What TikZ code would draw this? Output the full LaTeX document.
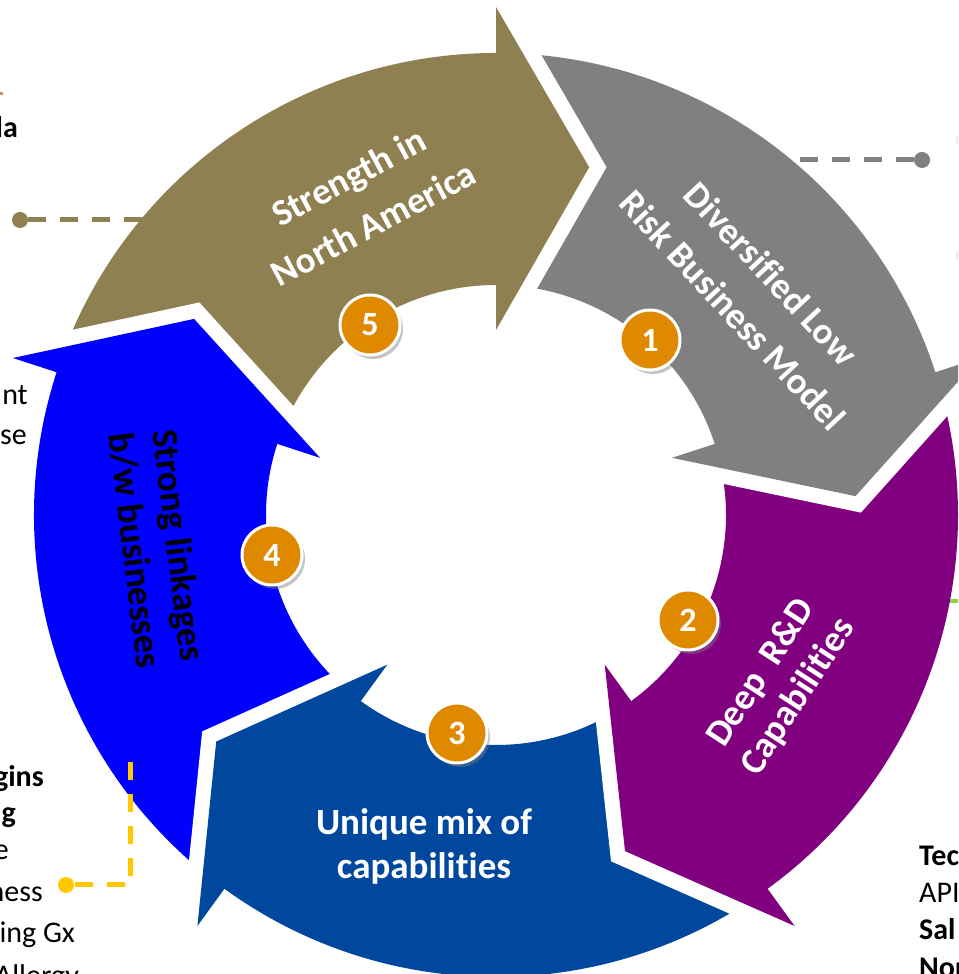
\documentclass[tikz,border=0pt]{standalone}
\usepackage{fontspec}
\setmainfont{Carlito}[Ligatures={NoCommon}]
\usetikzlibrary{shadows,calc}
\definecolor{cbrown}{RGB}{143,128,82}
\definecolor{cgray}{RGB}{128,128,128}
\definecolor{cpurple}{RGB}{128,0,128}
\definecolor{cdblue}{RGB}{0,72,157}
\definecolor{cblue}{RGB}{0,0,255}
\definecolor{corange}{RGB}{222,137,0}
\definecolor{cyellow}{RGB}{255,200,0}
\definecolor{cgreen}{RGB}{146,208,80}
\definecolor{cbeige}{RGB}{236,232,216}
\definecolor{ctan}{RGB}{196,150,96}
\newcommand{\mybody}[2]{%
  \fill[#2] (#1+70.5:462pt) arc[start angle={#1+70.5}, end angle={#1-1}, radius=462pt]
    -- (#1-1:230pt) arc[start angle={#1-1}, end angle={#1+70.5}, radius=230pt] -- cycle;}
\newcommand{\myhead}[2]{%
  \draw[white, line width=30pt, line join=miter] (#1:508pt) -- (#1-15:360pt) -- (#1:185pt);
  \fill[#2] (#1:508pt) -- (#1-15:360pt) -- (#1:185pt) -- cycle;}
\begin{document}
\begin{tikzpicture}[x=1pt,y=1pt,
  maintext/.style={align=center, text=white, font=\bfseries\fontsize{37}{44}\selectfont, inner sep=0pt},
  widetext/.style={maintext, font=\bfseries\fontsize{37}{53}\selectfont},
  badge/.style={circle, fill=corange, draw=white, line width=3pt, minimum size=60pt, inner sep=0pt,
     text=white, font=\bfseries\fontsize{34}{34}\selectfont,
     drop shadow={opacity=0.45, shadow xshift=3pt, shadow yshift=-4pt}},
  dot/.style={circle, inner sep=0pt, minimum size=16pt},
  dashline/.style={line width=5pt, dash pattern=on 18pt off 14pt},
  sidetext/.style={font=\fontsize{30}{36}\selectfont, inner sep=0pt},
  sidebold/.style={font=\bfseries\fontsize{30}{36}\selectfont, inner sep=0pt}]
\useasboundingbox (0,0) rectangle (958,974);
\clip (0,0) rectangle (958,974);
\fill[white] (0,0) rectangle (958,974);

% connectors behind the ring
\node[dot, fill=cgray] (gdot) at (922,814) {};
\coordinate (gend) at (788,814);
\draw[dashline, cgray] (gdot) -- (gend);
\node[dot, fill=cbrown] (bdot) at (20,754) {};
\coordinate (bend) at (145,754);
\draw[dashline, cbrown] (bdot) -- (bend);
\coordinate (grA) at (945,373);
\coordinate (grB) at (965,373);
\draw[line width=4pt, cgreen] (grA) -- (grB);
\coordinate (tnA) at (-10,880.5);
\coordinate (tnB) at (3,880.5);
\draw[line width=3pt, ctan] (tnA) -- (tnB);
\node[dot, fill=cbeige] (bg1) at (964,834) {};
\node[dot, fill=cbeige] (bg2) at (964,719) {};

% ring
\begin{scope}[shift={(496,459)}]
  \mybody{90}{cbrown}
  \mybody{18}{cgray}
  \mybody{-54}{cpurple}
  \mybody{-126}{cdblue}
  \mybody{162}{cblue}
  \myhead{90}{cbrown}
  \myhead{18}{cgray}
  \myhead{-54}{cpurple}
  \myhead{-126}{cdblue}
  \myhead{162}{cblue}
\end{scope}

% yellow connector on top
\node[dot, fill=cyellow] (ydot) at (66,89) {};
\coordinate (ytop) at (130,212);
\coordinate (ycorner) at (130,89);
\draw[dashline, cyellow] (ytop) -- (ycorner) -- (ydot);

% texts in arrows
\node[widetext, rotate=28] (t5) at (361,774) {Strength in\\North America};
\node[widetext, rotate=-47] (t1) at (752,682) {Diversified Low\\Risk Business Model};
\node[maintext, rotate=57] (t2) at (780,289) {Deep\ \ R\&D\\Capabilities};
\node[maintext] (t3) at (424,128) {Unique mix of\\capabilities};
\node[maintext, text=black, rotate=-83] (t4) at (157,426) {Strong linkages\\b/w businesses};

% badges
\node[badge] (n1) at (650,634) {1};
\node[badge] (n2) at (688,354) {2};
\node[badge] (n3) at (457,241) {3};
\node[badge] (n4) at (272,419) {4};
\node[badge] (n5) at (370,649) {5};

% cut side texts
\node[sidebold, anchor=base east] (l1) at (18,836) {la};
\node[sidetext, anchor=base east] (l2) at (28,569) {nt};
\node[sidetext, anchor=base east] (l3) at (27,529) {se};
\node[sidebold, anchor=base east] (l4) at (44,187) {gins};
\node[sidebold, anchor=base east] (l5) at (16,151) {g};
\node[sidetext, anchor=base east] (l6) at (9,114) {e};
\node[sidetext, anchor=base east] (l7) at (43,72) {ness};
\node[sidetext, anchor=base east] (l8) at (75,31) {ing Gx};
\node[sidetext, anchor=base east] (l9) at (79,-11) {Allergy};
\node[sidebold, anchor=base west] (r1) at (919,108) {Tec};
\node[sidetext, anchor=base west] (r2) at (919,71) {API};
\node[sidebold, anchor=base west] (r3) at (919,34) {Sal};
\node[sidebold, anchor=base west] (r4) at (919,-4) {Nor};
\end{tikzpicture}
\end{document}
